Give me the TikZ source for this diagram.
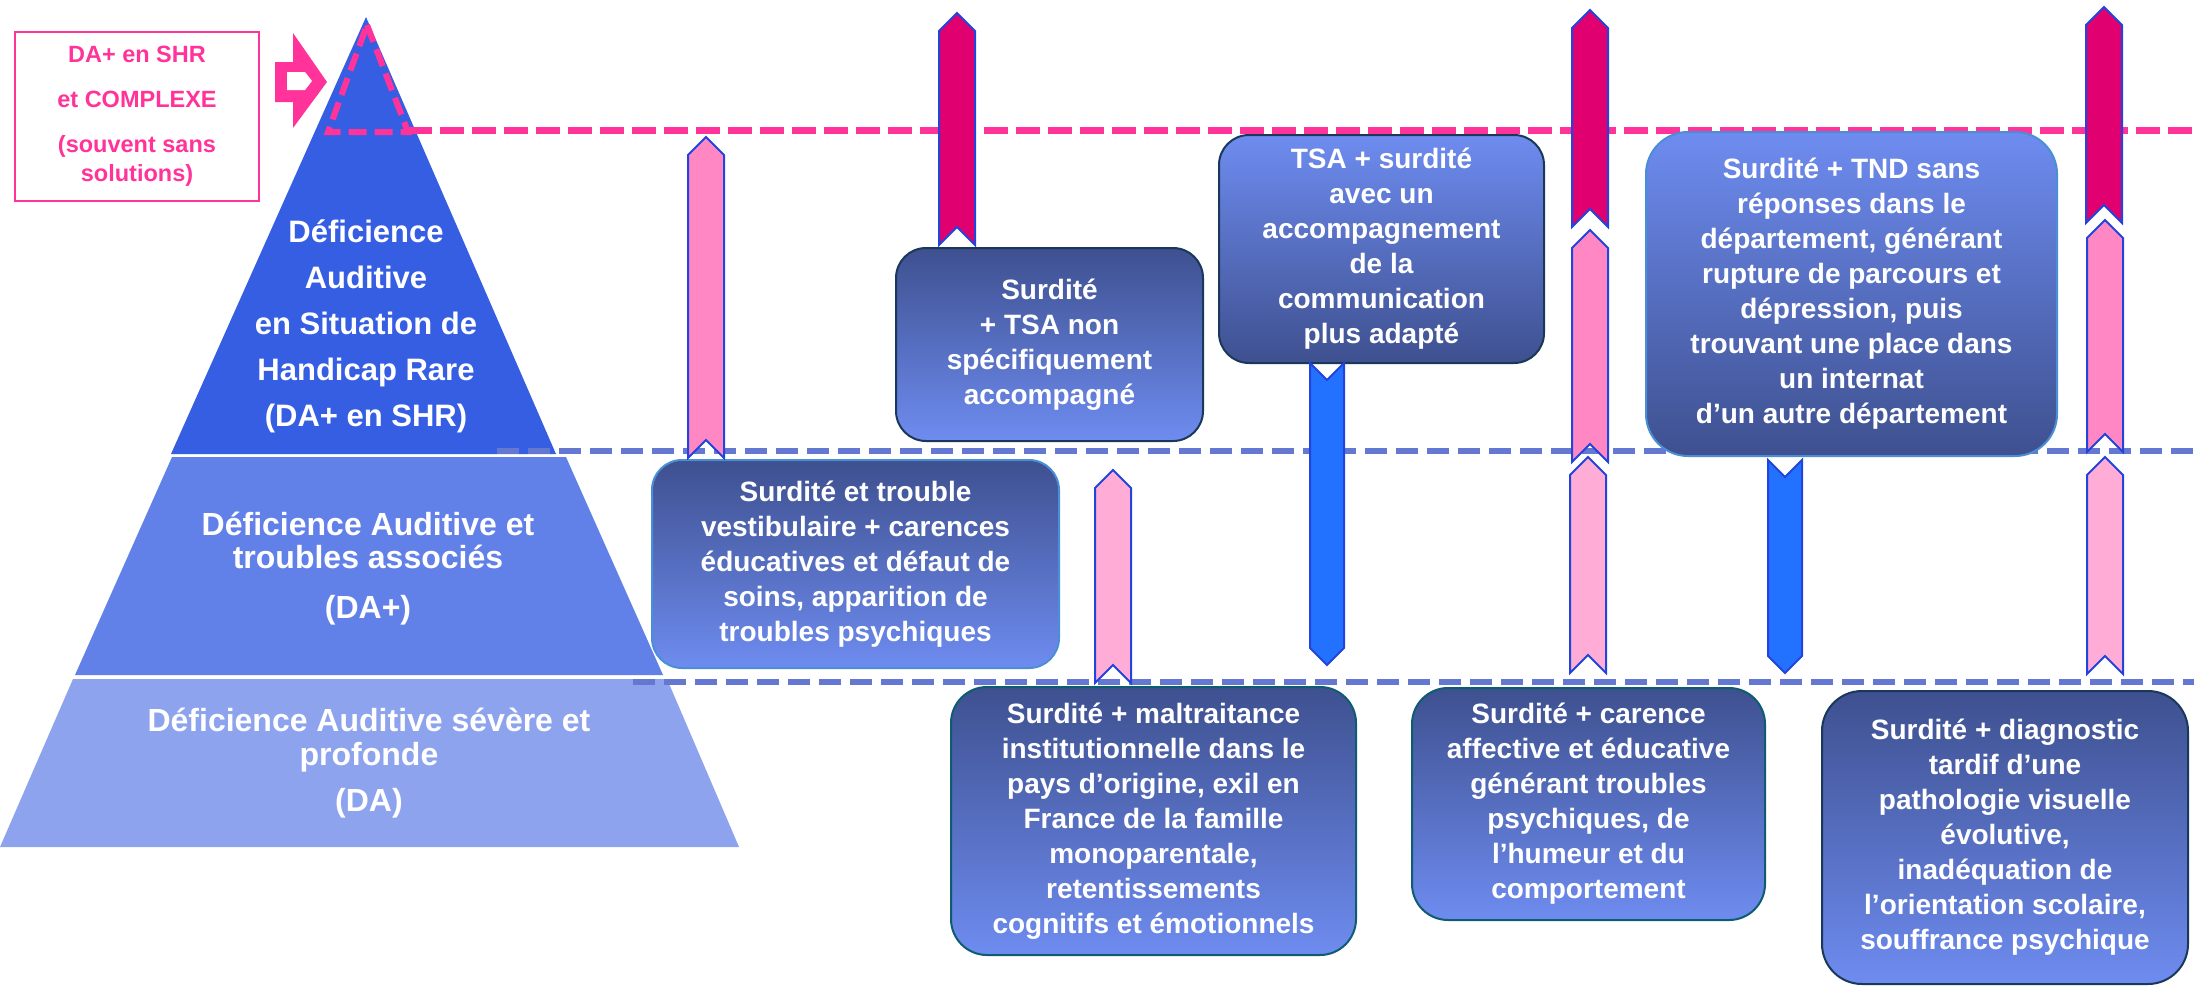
\documentclass[tikz,border=0pt]{standalone}
\usepackage{fontspec}
\setmainfont{Liberation Sans}
\usepackage{tikz}

\definecolor{shrblue}{RGB}{54,94,226}
\definecolor{daplusblue}{RGB}{98,129,232}
\definecolor{dablue}{RGB}{142,163,238}
\definecolor{alertpink}{RGB}{255,51,153}
\definecolor{ribbonpink}{RGB}{255,136,196}
\definecolor{ribbonlight}{RGB}{255,172,214}
\definecolor{ribbonmagenta}{RGB}{224,0,112}
\definecolor{ribbonblue}{RGB}{34,114,255}
\definecolor{ribbonedge}{RGB}{34,68,221}
\definecolor{dashblue}{RGB}{100,120,210}
\definecolor{boxdark}{RGB}{62,80,143}
\definecolor{boxlight}{RGB}{110,140,240}
\definecolor{edgenavy}{RGB}{26,56,90}
\definecolor{edgeteal}{RGB}{14,92,112}
\definecolor{edgesky}{RGB}{74,143,214}

\tikzset{
    casebox/.style={rounded corners=30pt, line width=2pt, text=white,
        align=center, inner sep=0pt,
        font=\bfseries\fontsize{28}{35}\selectfont},
    darktop/.style={top color=boxdark, bottom color=boxlight},
    lighttop/.style={top color=boxlight, bottom color=boxdark},
    levellabel/.style={text=white, align=center,
        font=\bfseries\fontsize{32}{33}\selectfont},
    ribbon/.style={draw=ribbonedge, line width=2pt, line join=miter},
    pinkdash/.style={alertpink, line width=7pt, dash pattern=on 24pt off 8pt},
    bluedash/.style={dashblue, line width=6pt, dash pattern=on 22pt off 9pt}
}

\begin{document}
\begin{tikzpicture}[x=1pt,y=-1pt]
\useasboundingbox (0,0) rectangle (2194,985);

% Pyramid
\fill[shrblue] (366,17) -- (556,454) -- (171,454) -- cycle;
\fill[daplusblue] (172,457) -- (566,457) -- (663,675) -- (75,675) -- cycle;
\fill[dablue] (73,679) -- (667,679) -- (739,847) -- (0,847) -- cycle;

\node[levellabel, font=\bfseries\fontsize{31}{46}\selectfont] (shrlabel) at (366,326)
    {Déficience\\Auditive\\en Situation de\\Handicap Rare\\(DA+ en SHR)};
\node[levellabel] (daplabel) at (368,569)
    {Déficience Auditive et\\troubles associés\\[17pt](DA+)};
\node[levellabel, font=\bfseries\fontsize{32}{34}\selectfont] (dalabel) at (369,763)
    {Déficience Auditive sévère et\\profonde\\[12pt](DA)};

% Top of the pyramid
\draw[alertpink, line width=6pt, dash pattern=on 18pt off 8pt] (367,25) -- (408,132) -- (328,132) -- cycle;

% Level lines
\draw[pinkdash] (408,130) -- (2194,130);
\draw[bluedash] (497,451) -- (2194,451);
\draw[bluedash] (633,682) -- (2194,682);

% Situations
\node[casebox, darktop, draw=edgenavy, minimum width=307pt, minimum height=193pt] (tsanon) at (1049.5,344.5)
    {Surdité\\+ TSA non\\spécifiquement\\accompagné};
\node[casebox, lighttop, draw=edgenavy, minimum width=325pt, minimum height=228pt] (tsacomm) at (1381.5,249)
    {TSA + surdité\\avec un\\accompagnement\\de la\\communication\\plus adapté};
\node[casebox, lighttop, draw=edgesky, rounded corners=42pt, minimum width=411pt, minimum height=324pt] (tnd) at (1851.5,294)
    {Surdité + TND sans\\réponses dans le\\département, générant\\rupture de parcours et\\dépression, puis\\trouvant une place dans\\un internat\\d’un autre département};
\node[casebox, darktop, draw=edgesky, minimum width=407pt, minimum height=208pt] (vestib) at (855.5,564)
    {Surdité et trouble\\vestibulaire + carences\\éducatives et défaut de\\soins, apparition de\\troubles psychiques};
\node[casebox, darktop, draw=edgeteal, rounded corners=36pt, minimum width=405pt, minimum height=268pt] (maltrait) at (1153.5,821)
    {Surdité + maltraitance\\institutionnelle dans le\\pays d’origine, exil en\\France de la famille\\monoparentale,\\retentissements\\cognitifs et émotionnels};
\node[casebox, darktop, draw=edgeteal, rounded corners=36pt, minimum width=353pt, minimum height=232pt] (carence) at (1588.5,804)
    {Surdité + carence\\affective et éducative\\générant troubles\\psychiques, de\\l’humeur et du\\comportement};
\node[casebox, darktop, draw=edgenavy, rounded corners=40pt, minimum width=366pt, minimum height=293pt] (visuel) at (2005,837.5)
    {Surdité + diagnostic\\tardif d’une\\pathologie visuelle\\évolutive,\\inadéquation de\\l’orientation scolaire,\\souffrance psychique};

% Upward ribbons
\foreach \x/\yt/\yb/\c in {706/137/458/ribbonpink, 957/13/245/ribbonmagenta,
        1590/10/227/ribbonmagenta, 2104/7/223/ribbonmagenta,
        1590/230/462/ribbonpink, 2105/220/452/ribbonpink,
        1113/470/683/ribbonlight, 1588/457/673/ribbonlight, 2105/457/674/ribbonlight}
    \draw[ribbon, fill=\c] (\x-18,\yt+18) -- (\x,\yt) -- (\x+18,\yt+18) -- (\x+18,\yb)
        -- (\x,\yb-18) -- (\x-18,\yb) -- cycle;

% Downward ribbons
\foreach \x/\yt/\yb in {1327/363/665, 1785/460/673}
    \draw[ribbon, fill=ribbonblue] (\x-17,\yt) -- (\x,\yt+17) -- (\x+17,\yt) -- (\x+17,\yb-17)
        -- (\x,\yb) -- (\x-17,\yb-17) -- cycle;

% DA+ en SHR et complexe
\node[draw=alertpink, line width=1.5pt, text=alertpink, align=center, inner sep=0pt,
      minimum width=244pt, minimum height=169pt,
      font=\bfseries\fontsize{23.5}{29}\selectfont] (alertbox) at (137,116.5)
    {DA+ en SHR\\[16pt]et COMPLEXE\\[16pt](souvent sans\\solutions)};
\fill[alertpink] (275,62) -- (293,62) -- (293,33) -- (327,82) -- (293,128) -- (293,102) -- (275,102) -- cycle;
\fill[white] (287,72) -- (305,72) -- (312,81) -- (305,90) -- (287,90) -- cycle;

\end{tikzpicture}
\end{document}
